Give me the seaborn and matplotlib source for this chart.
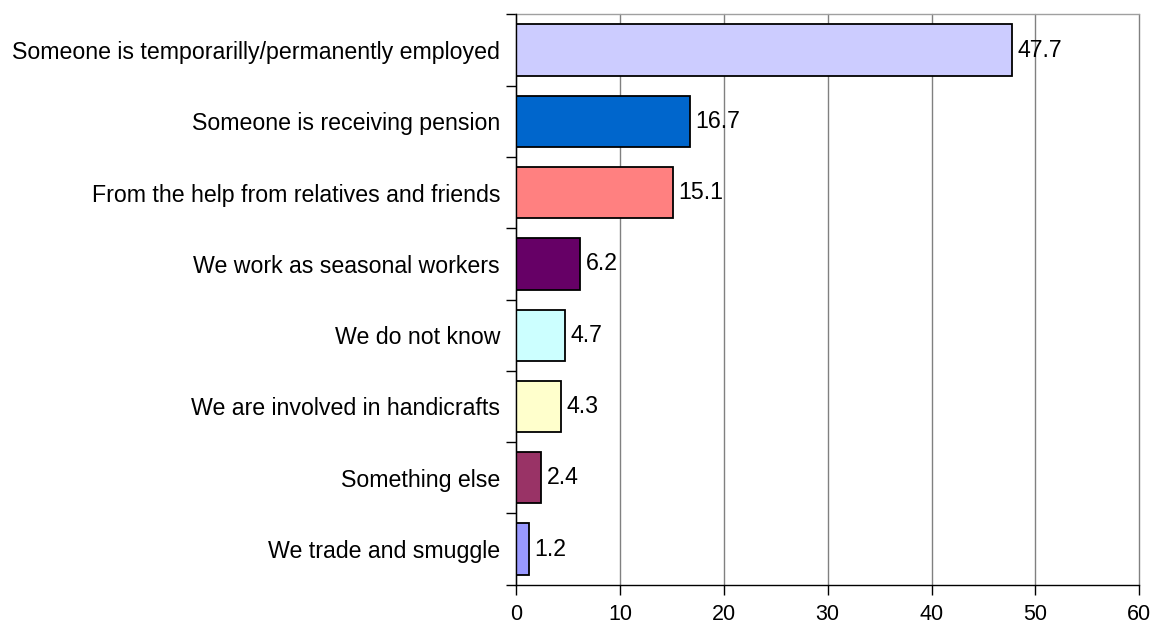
import matplotlib
matplotlib.use("Agg")
import matplotlib.pyplot as plt
from matplotlib.ticker import FixedLocator
import seaborn as sns
import pandas as pd

categories = [
    "Someone is temporarilly/permanently employed",
    "Someone is receiving pension",
    "From the help from relatives and friends",
    "We work as seasonal workers",
    "We do not know",
    "We are involved in handicrafts",
    "Something else",
    "We trade and smuggle",
]
values = [47.7, 16.7, 15.1, 6.2, 4.7, 4.3, 2.4, 1.2]
colors = ["#CCCCFF", "#0066CC", "#FF8080", "#660066",
          "#CCFFFF", "#FFFFCC", "#993366", "#9999FF"]
x_ticks = [0, 10, 20, 30, 40, 50, 60]

df = pd.DataFrame({"category": categories, "value": values})

sns.set_style("white")
plt.rcParams["font.family"] = ["Liberation Sans", "DejaVu Sans"]
plt.rcParams["text.color"] = "black"
plt.rcParams["xtick.color"] = "black"
plt.rcParams["ytick.color"] = "black"
plt.rcParams["xtick.labelcolor"] = "black"
plt.rcParams["ytick.labelcolor"] = "black"

FS = 16.7

fig = plt.figure(figsize=(11.52, 6.26), dpi=100)
ax = fig.add_axes([0.448, 0.066, 0.541, 0.911])

sns.barplot(data=df, x="value", y="category", hue="category",
            palette=colors, orient="h", width=0.72, legend=False,
            edgecolor="black", linewidth=1.3, saturation=1, ax=ax, zorder=3)

ax.set_xlim(0, 60)
ax.set_ylim(len(categories) - 0.5, -0.5)
ax.xaxis.set_major_locator(FixedLocator(x_ticks))
ax.set_xticklabels([str(t) for t in x_ticks])
ax.grid(axis="x", color="#808080", linewidth=1.0, zorder=0)
ax.grid(axis="y", visible=False)
for gl in ax.get_xgridlines():
    gl.set_clip_on(False)

ax.spines["right"].set_visible(False)
ax.spines["top"].set_color("#A0A0A0")
ax.spines["top"].set_linewidth(1.0)
for s in ["left", "bottom"]:
    ax.spines[s].set_color("black")
    ax.spines[s].set_linewidth(1.0)
    ax.spines[s].set_zorder(5)

ax.set_xlabel("")
ax.set_ylabel("")
ax.tick_params(axis="x", which="major", direction="out", length=7, width=1,
               color="black", labelsize=15.5, pad=7, bottom=True)
ax.tick_params(axis="y", which="major", length=0, labelsize=FS, pad=11.5)
ax.yaxis.set_minor_locator(FixedLocator([i + 0.5 for i in range(-1, len(categories))]))
ax.tick_params(axis="y", which="minor", direction="out", length=7, width=1,
               color="black", left=True)

for i, v in enumerate(values):
    ax.text(v + 0.55, i, f"{v:.1f}", va="center", ha="left", fontsize=FS,
            color="black", zorder=6)

fig.savefig("out.png", dpi=100)
